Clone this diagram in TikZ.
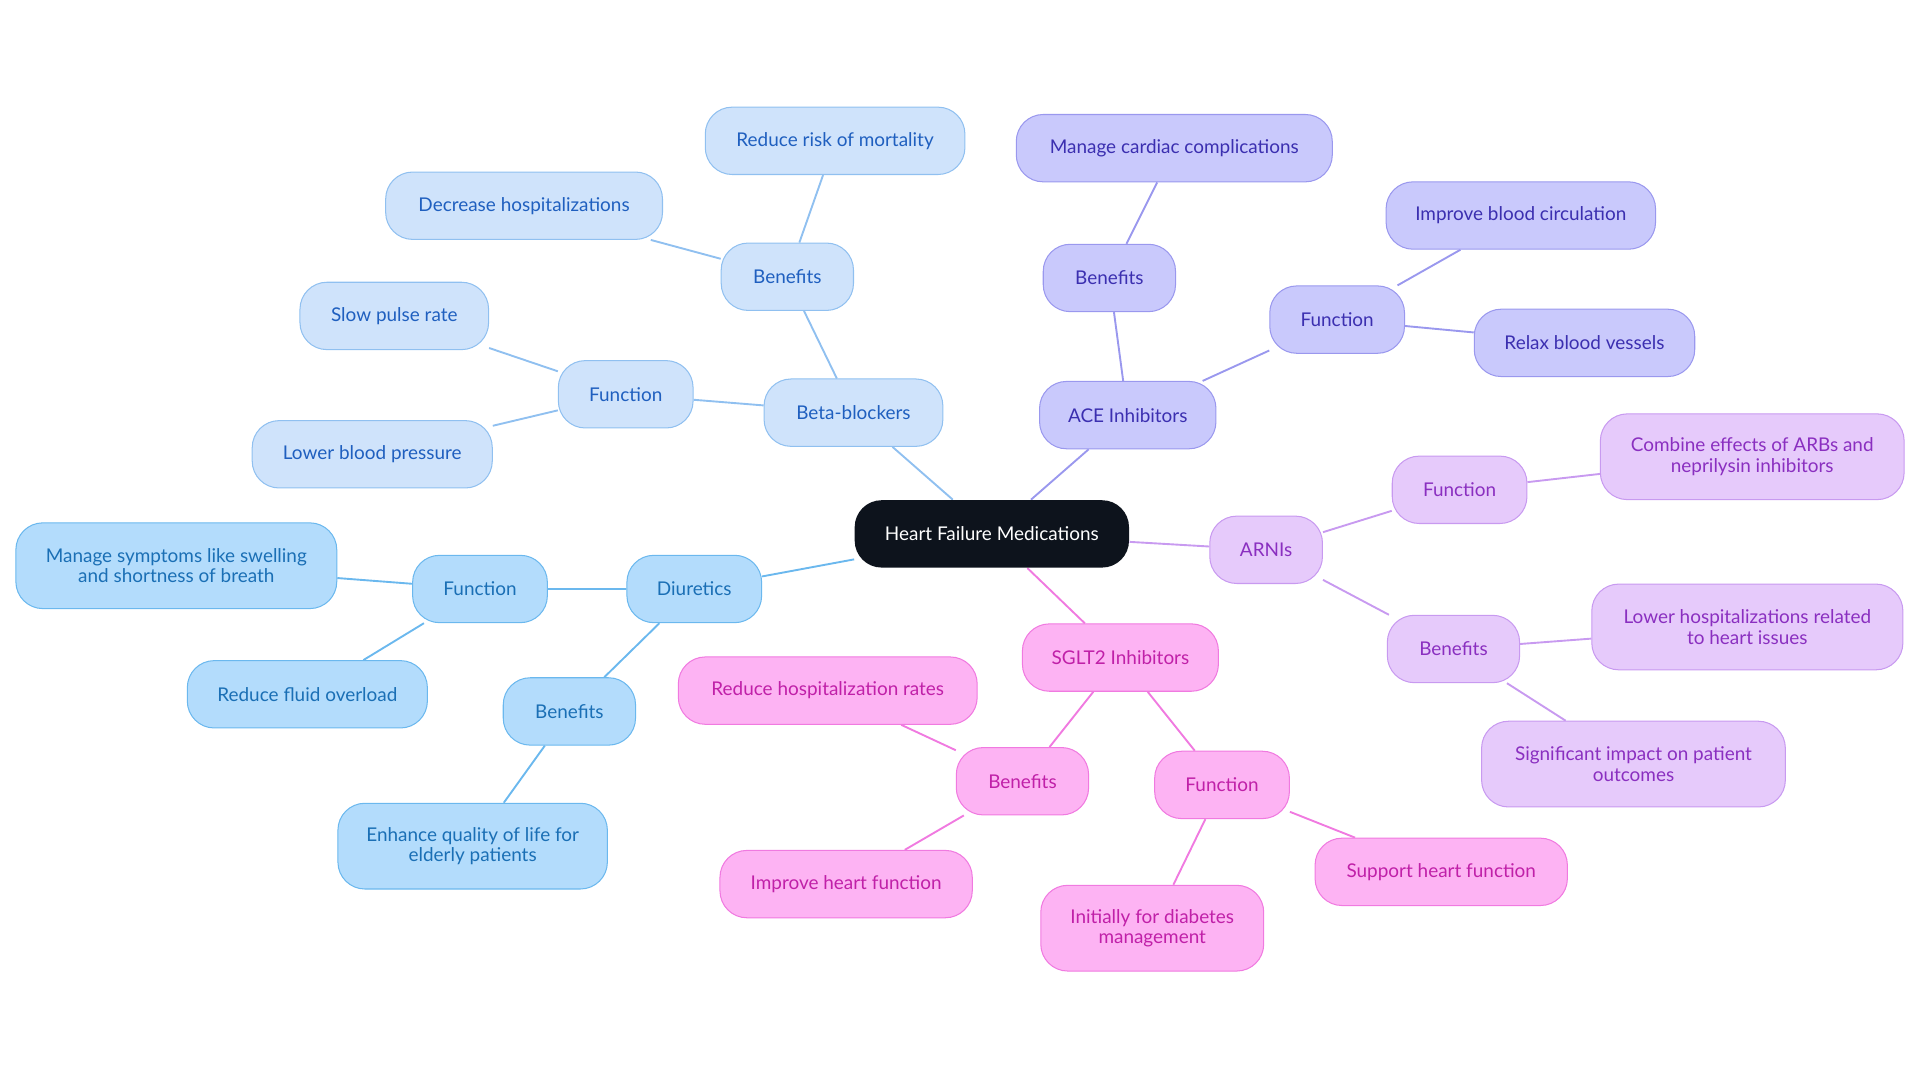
\documentclass[tikz,border=0pt]{standalone}
\usepackage{fontspec}
\setmainfont{Lato}
\usetikzlibrary{backgrounds}

\tikzset{
  box/.style={rounded corners=0.55cm, minimum height=1.375cm, inner sep=0pt, align=center,
    font=\fontsize{11}{12}\selectfont, line width=0.6pt},
  beta/.style={box, fill=betaF, draw=betaD, text=betaT},
  diur/.style={box, fill=diurF, draw=diurD, text=diurT},
  ace/.style={box, fill=aceF, draw=aceD, text=aceT},
  arni/.style={box, fill=arniF, draw=arniD, text=arniT},
  sglt/.style={box, fill=sgltF, draw=sgltD, text=sgltT},
  tall/.style={minimum height=1.75cm},
  link/.style={line width=1.1pt}
}
\definecolor{betaF}{HTML}{CFE3FB}\definecolor{betaD}{HTML}{90C0F0}\definecolor{betaT}{HTML}{1F5FBF}
\definecolor{diurF}{HTML}{B3DCFC}\definecolor{diurD}{HTML}{6BB8EE}\definecolor{diurT}{HTML}{1A6FB5}
\definecolor{aceF}{HTML}{C9C9FC}\definecolor{aceD}{HTML}{9A98EE}\definecolor{aceT}{HTML}{3B2FB0}
\definecolor{arniF}{HTML}{E6CAFB}\definecolor{arniD}{HTML}{C89AF0}\definecolor{arniT}{HTML}{8A2FC0}
\definecolor{sgltF}{HTML}{FDB3F3}\definecolor{sgltD}{HTML}{F07AE0}\definecolor{sgltT}{HTML}{C020A8}
\definecolor{rootF}{HTML}{0D131C}

\begin{document}
\begin{tikzpicture}[x=0.025cm, y=-0.025cm]
    \useasboundingbox (0,0) rectangle (1568,884);
    % centre
    \node[box, fill=rootF, text=white, minimum width=5.6cm] (root) at (810,436) {Heart Failure Medications};
    % beta-blockers
    \node[beta, minimum width=3.65cm] (bb) at (697,337) {Beta-blockers};
    \node[beta, minimum width=2.7cm] (bbB) at (643,226) {Benefits};
    \node[beta, minimum width=5.3cm] (bbB1) at (682,115) {Reduce risk of mortality};
    \node[beta, minimum width=5.65cm] (bbB2) at (428,168) {Decrease hospitalizations};
    \node[beta, minimum width=2.75cm] (bbF) at (511,322) {Function};
    \node[beta, minimum width=3.85cm] (bbF1) at (322,258) {Slow pulse rate};
    \node[beta, minimum width=4.9cm] (bbF2) at (304,371) {Lower blood pressure};
    % diuretics
    \node[diur, minimum width=2.75cm] (di) at (567,481) {Diuretics};
    \node[diur, minimum width=2.75cm] (diF) at (392,481) {Function};
    \node[diur, tall, minimum width=6.55cm] (diF1) at (144,462) {Manage symptoms like swelling\\and shortness of breath};
    \node[diur, minimum width=4.9cm] (diF2) at (251,567) {Reduce fluid overload};
    \node[diur, minimum width=2.7cm] (diB) at (465,581) {Benefits};
    \node[diur, tall, minimum width=5.5cm] (diB1) at (386,691) {Enhance quality of life for\\elderly patients};
    % ACE inhibitors
    \node[ace, minimum width=3.6cm] (ac) at (921,339) {ACE Inhibitors};
    \node[ace, minimum width=2.7cm] (acB) at (906,227) {Benefits};
    \node[ace, minimum width=6.45cm] (acB1) at (959,121) {Manage cardiac complications};
    \node[ace, minimum width=2.75cm] (acF) at (1092,261) {Function};
    \node[ace, minimum width=5.5cm] (acF1) at (1242,176) {Improve blood circulation};
    \node[ace, minimum width=4.5cm] (acF2) at (1294,280) {Relax blood vessels};
    % ARNIs
    \node[arni, minimum width=2.3cm] (ar) at (1034,449) {ARNIs};
    \node[arni, minimum width=2.75cm] (arF) at (1192,400) {Function};
    \node[arni, tall, minimum width=6.2cm] (arF1) at (1431,373) {Combine effects of ARBs and\\neprilysin inhibitors};
    \node[arni, minimum width=2.7cm] (arB) at (1187,530) {Benefits};
    \node[arni, tall, minimum width=6.35cm] (arB1) at (1427,512) {Lower hospitalizations related\\to heart issues};
    \node[arni, tall, minimum width=6.2cm] (arB2) at (1334,624) {Significant impact on patient\\outcomes};
    % SGLT2 inhibitors
    \node[sglt, minimum width=4cm] (sg) at (915,537) {SGLT2 Inhibitors};
    \node[sglt, minimum width=2.7cm] (sgB) at (835,638) {Benefits};
    \node[sglt, minimum width=6.1cm] (sgB1) at (676,564) {Reduce hospitalization rates};
    \node[sglt, minimum width=5.15cm] (sgB2) at (691,722) {Improve heart function};
    \node[sglt, minimum width=2.75cm] (sgF) at (998,641) {Function};
    \node[sglt, minimum width=5.15cm] (sgF1) at (1177,712) {Support heart function};
    \node[sglt, tall, minimum width=4.55cm] (sgF2) at (941,758) {Initially for diabetes\\management};
    % links
    \begin{scope}[on background layer]
        \draw[link, betaD] (root) -- (bb) (bb) -- (bbB) (bbB) -- (bbB1) (bbB) -- (bbB2)
            (bb) -- (bbF) (bbF) -- (bbF1) (bbF) -- (bbF2);
        \draw[link, diurD] (root) -- (di) (di) -- (diF) (diF) -- (diF1) (diF) -- (diF2)
            (di) -- (diB) (diB) -- (diB1);
        \draw[link, aceD] (root) -- (ac) (ac) -- (acB) (acB) -- (acB1) (ac) -- (acF)
            (acF) -- (acF1) (acF) -- (acF2);
        \draw[link, arniD] (root) -- (ar) (ar) -- (arF) (arF) -- (arF1) (ar) -- (arB)
            (arB) -- (arB1) (arB) -- (arB2);
        \draw[link, sgltD] (root) -- (sg) (sg) -- (sgB) (sgB) -- (sgB1) (sgB) -- (sgB2)
            (sg) -- (sgF) (sgF) -- (sgF1) (sgF) -- (sgF2);
    \end{scope}
\end{tikzpicture}
\end{document}
